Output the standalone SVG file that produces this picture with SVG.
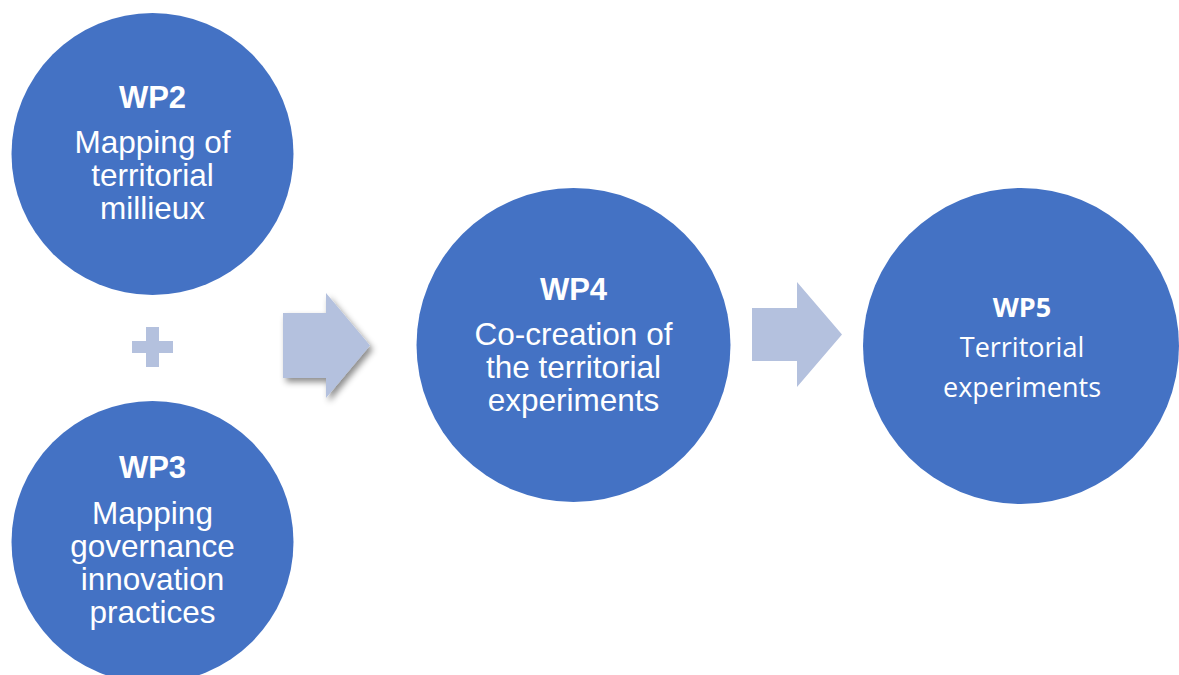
<svg xmlns="http://www.w3.org/2000/svg" width="1179" height="675" viewBox="0 0 1179 675">
<defs>
<style>
.node{fill:#4472C4}
.arrow{fill:#B4C1DE}
.t{fill:#ffffff;font-family:"Liberation Sans",Arial,sans-serif;font-size:31.5px;text-anchor:middle}
.b{font-weight:bold;font-size:31px}
.c{fill:#ffffff;font-family:"Open Sans","Noto Sans",sans-serif;font-size:27px;text-anchor:middle}
.cb{font-weight:bold}
</style>
<filter id="shadow" x="-20%" y="-20%" width="150%" height="150%">
<feDropShadow dx="3" dy="4" stdDeviation="3" flood-color="#000" flood-opacity="0.45"/>
</filter>
</defs>
<rect width="1179" height="675" fill="#ffffff"/>
<g id="wp2">
<circle class="node" cx="152.5" cy="154" r="141"/>
<text class="t b" x="152.5" y="108">WP2</text>
<text class="t" x="152.5" y="153">Mapping of</text>
<text class="t" x="152.5" y="186">territorial</text>
<text class="t" x="152.5" y="219">millieux</text>
</g>
<g id="plus">
<rect class="arrow" x="132" y="341" width="41" height="12"/>
<rect class="arrow" x="146" y="327" width="13" height="40"/>
</g>
<g id="wp3">
<circle class="node" cx="152.5" cy="542" r="141"/>
<text class="t b" x="152.5" y="478">WP3</text>
<text class="t" x="152.5" y="524">Mapping</text>
<text class="t" x="152.5" y="557">governance</text>
<text class="t" x="152.5" y="590">innovation</text>
<text class="t" x="152.5" y="623">practices</text>
</g>
<g id="connectors">
<polygon class="arrow" filter="url(#shadow)" points="283,313 326,313 326,293 370,345.5 326,398 326,378 283,378"/>
<polygon class="arrow" points="752,308 797,308 797,282 842,334.5 797,387 797,361 752,361"/>
</g>
<g id="wp4">
<circle class="node" cx="573.5" cy="345" r="157"/>
<text class="t b" x="573.5" y="300">WP4</text>
<text class="t" x="573.5" y="345">Co-creation of</text>
<text class="t" x="573.5" y="378">the territorial</text>
<text class="t" x="573.5" y="411">experiments</text>
</g>
<g id="wp5">
<circle class="node" cx="1021" cy="346" r="158"/>
<text class="c cb" x="1022" y="317">WP5</text>
<text class="c" x="1022" y="357">Territorial</text>
<text class="c" x="1022" y="397">experiments</text>
</g>
</svg>
